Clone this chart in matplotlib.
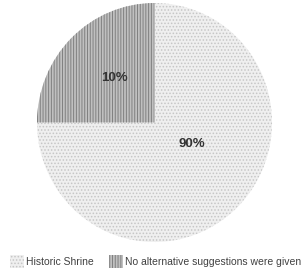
import numpy as np
import matplotlib
matplotlib.use("Agg")
import matplotlib.pyplot as plt

# data
categories = ['Historic Shrine', 'No alternative suggestions were given']
slice_sizes = [75, 25]          # drawn share of the circle
pct_labels = ['90%', '10%']     # printed labels

plt.rcParams['font.family'] = ['Liberation Sans', 'DejaVu Sans']
plt.rcParams['hatch.linewidth'] = 0.7

fig = plt.figure(figsize=(3.02, 2.69), dpi=100)
W, H = 302, 269
ax = fig.add_axes([37 / W, (H - 242) / H, 235 / W, 239 / H])

faces = ['#efefef', '#c0c0c0']
hatch_cols = ['#c6c6c6', '#808080']
hatches = ['.....', '||||||']

wedges, _ = ax.pie(slice_sizes, startangle=90, counterclock=False,
                   radius=1, wedgeprops=dict(linewidth=0))
for w, fc, hc, h in zip(wedges, faces, hatch_cols, hatches):
    w.set_facecolor(fc)
    w.set_edgecolor(hc)
    w.set_hatch(h)
ax.set_xlim(-1, 1)
ax.set_ylim(-1, 1)
ax.set_aspect('auto')

# percentage labels
label_pos = [(0.32, -0.18), (-0.34, 0.37)]
for (x, y), t in zip(label_pos, pct_labels):
    ax.text(x, y, t, ha='center', va='center', fontsize=9.5,
            fontweight='bold', color='#333333')

leg = fig.legend(wedges, categories, loc='lower center', ncol=2,
                 bbox_to_anchor=(0.515, -0.03), frameon=False, fontsize=7.5,
                 handlelength=1.3, handleheight=1.5, handletextpad=0.2,
                 columnspacing=1.5, labelcolor='#404040')

fig.savefig('out.png', dpi=100)
